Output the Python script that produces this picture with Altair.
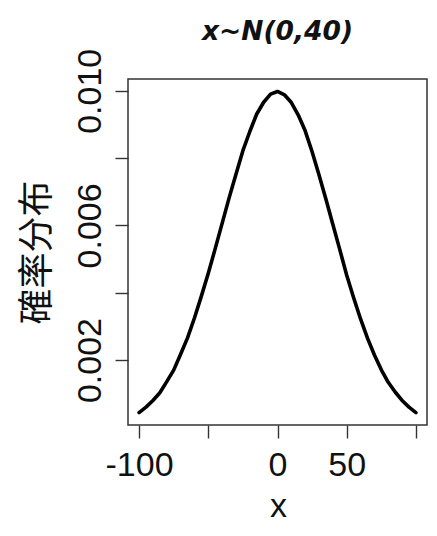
import altair as alt
import pandas as pd

# Data
x_vals = [-100, -95, -90, -85, -80, -75, -70, -65, -60, -55, -50, -45, -40, -35, -30,
          -25, -20, -15, -10, -5, 0, 5, 10, 15, 20, 25, 30, 35, 40, 45, 50, 55, 60,
          65, 70, 75, 80, 85, 90, 95, 100]
density = [0.00044, 0.00060, 0.00080, 0.00103, 0.00136, 0.00170, 0.00217, 0.00266,
           0.00325, 0.00390, 0.00458, 0.00531, 0.00606, 0.00681, 0.00752, 0.00822,
           0.00879, 0.00931, 0.00966, 0.00990, 0.00998, 0.00988, 0.00965, 0.00928,
           0.00881, 0.00819, 0.00750, 0.00678, 0.00603, 0.00528, 0.00452, 0.00385,
           0.00322, 0.00265, 0.00215, 0.00171, 0.00134, 0.00105, 0.00080, 0.00060,
           0.00044]

x_ticks = [-100, -50, 0, 50, 100]
x_tick_labels = ["-100", "", "0", "50", ""]
y_ticks = [0.002, 0.004, 0.006, 0.008, 0.010]
y_tick_labels = ["0.002", "", "0.006", "", "0.010"]

title_text = "x~N(0,40)"
x_title = "x"
y_title = "確率分布"

df = pd.DataFrame({"x": x_vals, "d": density})


def label_expr(values, labels, fmt):
    parts = []
    for v, l in zip(values, labels):
        parts.append(f"format(datum.value, '{fmt}') == format({v}, '{fmt}') ? '{l}' : ")
    return "".join(parts) + "''"


FONT = "Liberation Sans"
INK = "#111111"
GRID = "#333333"

chart = alt.Chart(df).mark_line(
    color="black", strokeWidth=3.6, strokeCap="round", strokeJoin="round"
).encode(
    x=alt.X(
        "x:Q",
        scale=alt.Scale(domain=[-108, 108], nice=False, zero=False),
        axis=alt.Axis(
            values=x_ticks,
            labelExpr=label_expr(x_ticks, x_tick_labels, ".0f"),
            title=x_title,
            domain=False,
            grid=False,
            tickSize=13,
            tickColor=GRID,
            tickWidth=1.4,
            labelFont=FONT,
            labelFontSize=34,
            labelColor=INK,
            labelBaseline="alphabetic",
            labelPadding=37,
            labelFlush=False,
            labelOverlap=False,
            titleFont=FONT,
            titleFontSize=34,
            titleFontWeight="normal",
            titleColor=INK,
            titleBaseline="alphabetic",
            titleX=150,
            titleY=91,
        ),
    ),
    y=alt.Y(
        "d:Q",
        scale=alt.Scale(domain=[0.00007, 0.01035], nice=False, zero=False),
        axis=alt.Axis(
            values=y_ticks,
            labelExpr=label_expr(y_ticks, y_tick_labels, ".3f"),
            title=y_title,
            domain=False,
            grid=False,
            tickSize=13,
            tickColor=GRID,
            tickWidth=1.4,
            labelFont=FONT,
            labelFontSize=34,
            labelColor=INK,
            labelAngle=270,
            labelAlign="center",
            labelBaseline="alphabetic",
            labelPadding=15,
            labelFlush=False,
            labelOverlap=False,
            titleFont="Noto Sans CJK SC",
            titleFontSize=36,
            titleFontWeight="normal",
            titleColor=INK,
            titleAngle=270,
            titleAlign="center",
            titleBaseline="middle",
            titleX=-91,
            titleY=173,
        ),
    ),
).properties(
    width=299,
    height=346,
    title=alt.TitleParams(
        text=title_text,
        font="DejaVu Sans",
        fontSize=26.5,
        fontWeight="bold",
        fontStyle="italic",
        color=INK,
        anchor="middle",
        frame="group",
        baseline="alphabetic",
        offset=10,
        dy=28,
    ),
    autosize=alt.AutoSizeParams(type="none"),
    padding={"left": 120, "top": 71, "right": 2, "bottom": 98},
).configure(
    background="white",
    view=alt.ViewConfig(stroke=GRID, strokeWidth=1.5),
)

chart.save("out.html", embed_options={"renderer": "svg", "actions": False})
